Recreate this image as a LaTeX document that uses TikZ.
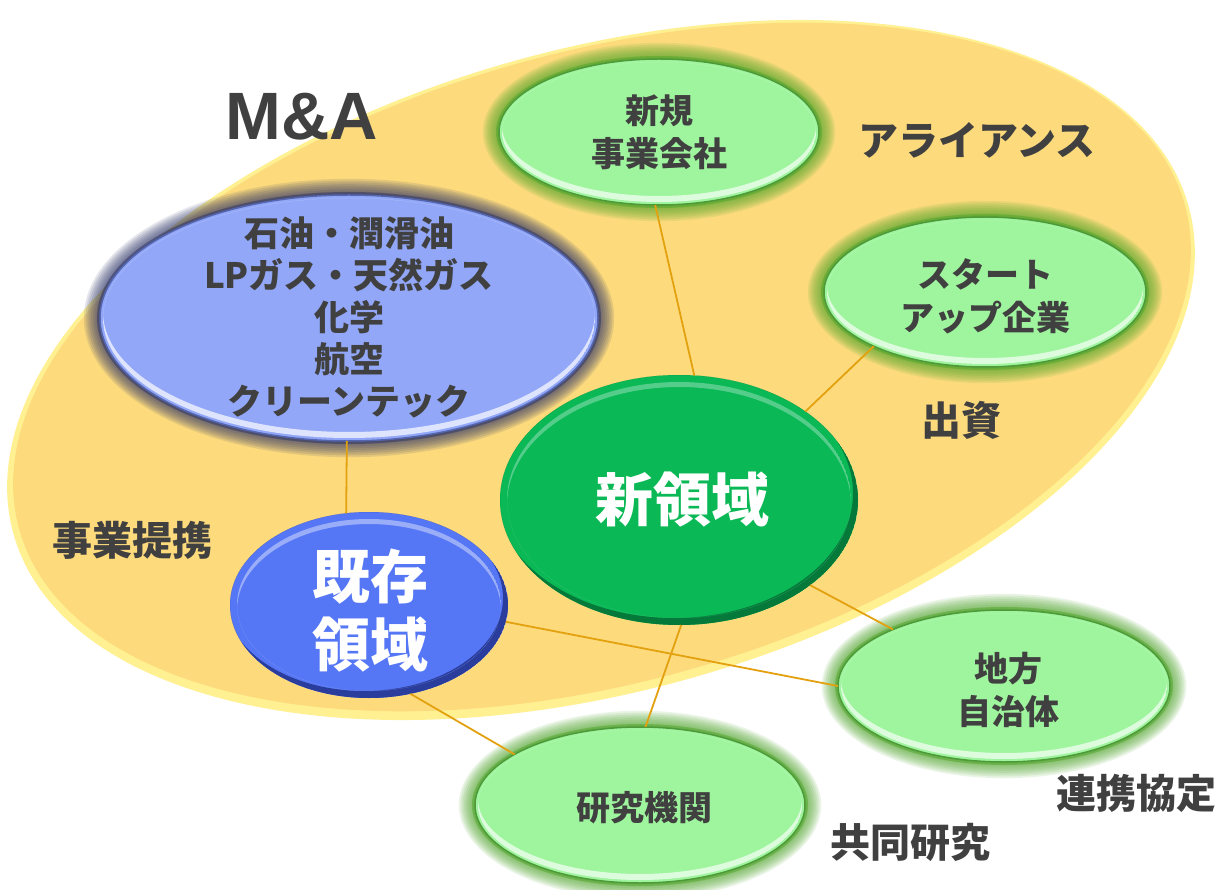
\documentclass[tikz,border=0pt]{standalone}
\usepackage{fontspec}
\setmainfont{Liberation Sans}
\newfontfamily\jp{Noto Sans CJK JP}
\usetikzlibrary{shapes.geometric}
\definecolor{txt}{HTML}{404040}
\definecolor{yel}{HTML}{FDDB7D}
\definecolor{yelrim}{HTML}{FFF092}
\definecolor{lgreen}{HTML}{9FF59E}
\definecolor{glowg}{HTML}{4FA52A}
\definecolor{rimg}{HTML}{4E9A3A}
\definecolor{lblue}{HTML}{92A7F8}
\definecolor{glowb}{HTML}{2E3468}
\definecolor{rimb}{HTML}{5566B0}
\definecolor{dgreen}{HTML}{0AB856}
\definecolor{ddgreen}{HTML}{04793A}
\definecolor{mblue}{HTML}{5677F5}
\definecolor{dmblue}{HTML}{2A3C9C}
\definecolor{conn}{HTML}{E3A10F}
\tikzset{
  conline/.style={draw=conn, line width=1.8pt},
  ebody/.style={ellipse, inner sep=0pt, outer sep=0pt},
  lbl/.style={font=\jp\bfseries\fontsize{40}{48}\selectfont, text=txt, inner sep=0pt},
  etxt/.style={font=\jp\bfseries\fontsize{34}{43}\selectfont, text=txt, align=center, inner sep=0pt},
  bigtxt/.style={font=\jp\bfseries\fontsize{58}{68}\selectfont, text=white, align=center, inner sep=0pt},
}
% glow: cx cy rx ry colour
\newcommand\myglow[5]{%
  \foreach \i in {1,...,9}{%
    \pgfmathsetmacro\rxx{#3+1.8*\i}%
    \pgfmathsetmacro\ryy{#4+1.8*\i}%
    \fill[#5, opacity=0.12] (#1,#2) ellipse [x radius=\rxx, y radius=\ryy];
  }%
  \fill[#5, opacity=0.5] (#1,#2) ellipse [x radius=#3+3, y radius=#4+3];
}
% lower highlight crescent: cx cy rx ry colour shift
\newcommand\mylight[6]{%
  \begin{scope}
    \pgfmathsetmacro\rxx{#3-3}%
    \pgfmathsetmacro\ryy{#4-3}%
    \clip (#1,#2) ellipse [x radius=\rxx, y radius=\ryy];
    \fill[#5, even odd rule] (#1,#2) ellipse [x radius=\rxx, y radius=\ryy]
      (#1,#2-#6) ellipse [x radius=\rxx, y radius=\ryy];
  \end{scope}
}
% dark crescent bottom-right: cx cy rx ry colour
\newcommand\mydark[5]{%
  \begin{scope}
    \clip (#1,#2) ellipse [x radius=#3, y radius=#4];
    \fill[#5, even odd rule] (#1,#2) ellipse [x radius=#3, y radius=#4]
      (#1-5,#2-7) ellipse [x radius=#3, y radius=#4];
  \end{scope}
}
\begin{document}
\begin{tikzpicture}[x=1pt,y=-1pt]
\useasboundingbox (0,0) rectangle (1221,890);
\fill[white] (0,0) rectangle (1221,890);
% big yellow ellipse
\fill[yelrim, rotate around={15.6:(601,370)}] (601,370) ellipse [x radius=610, y radius=321];
\fill[yel, rotate around={15.6:(602,367)}] (602,367) ellipse [x radius=605, y radius=315];

% oil ellipse
\myglow{349}{318}{249}{123}{glowb}
\node[ebody, fill=lblue, draw=rimb, line width=1.5pt, minimum width=498, minimum height=246] (oil) at (349,318) {};
\mylight{349}{318}{249}{123}{white!70!lblue}{6}

% new business company
\myglow{659}{132}{160}{73}{glowg}
\node[ebody, fill=lgreen, draw=rimg, line width=1.5pt, minimum width=320, minimum height=146] (shinki) at (659,132) {};
\mylight{659}{132}{160}{73}{white!65!lgreen}{6}

% startup
\myglow{985}{292}{161}{75}{glowg}
\node[ebody, fill=lgreen, draw=rimg, line width=1.5pt, minimum width=322, minimum height=150] (start) at (985,292) {};
\mylight{985}{292}{161}{75}{white!65!lgreen}{6}

% local government
\myglow{1004}{686}{166}{76}{glowg}
\node[ebody, fill=lgreen, draw=rimg, line width=1.5pt, minimum width=332, minimum height=152] (chiho) at (1004,686) {};
\mylight{1004}{686}{166}{76}{white!65!lgreen}{6}

% research institute
\myglow{640}{805}{165}{78}{glowg}
\node[ebody, fill=lgreen, draw=rimg, line width=1.5pt, minimum width=330, minimum height=156] (kenkyu) at (640,805) {};
\mylight{640}{805}{165}{78}{white!65!lgreen}{6}

% new domain
\node[ebody, fill=dgreen, minimum width=358, minimum height=250] (shin) at (679,500) {};
\mydark{679}{500}{179}{125}{ddgreen}
\mylight{679}{500}{175}{121}{dgreen!70!white}{-5}

% existing domain
\node[ebody, fill=mblue, minimum width=278, minimum height=186] (kizon) at (369,605) {};
\mydark{369}{605}{139}{93}{dmblue}
\mylight{369}{605}{135}{89}{mblue!60!white}{-5}

% connectors
\draw[conline] (oil.-91) -- (kizon.104);
\draw[conline] (shinki.-93) -- (shin.83);
\draw[conline] (start.206) -- (shin.35);
\draw[conline] (shin.-33) -- (chiho.153);
\draw[conline] (shin.-89) -- (kenkyu.86);
\draw[conline] (kizon.-7) -- (chiho.180);
\draw[conline] (kizon.-65) -- (kenkyu.158);

% texts inside
\node[etxt, font=\jp\bfseries\fontsize{35}{42}\selectfont] (toil) at (349,317) {石油・潤滑油\\LPガス・天然ガス\\化学\\航空\\クリーンテック};
\node[etxt] (tshinki) at (659,132) {新規\\事業会社};
\node[etxt] (tstart) at (985,296) {スタート\\アップ企業};
\node[etxt] (tchiho) at (1008,690) {地方\\自治体};
\node[etxt] (tkenkyu) at (644,808) {研究機関};
\node[bigtxt] (tshin) at (682,500) {新領域};
\node[bigtxt] (tkizon) at (370,611) {既存\\領域};

% labels
\node[font=\bfseries\fontsize{67}{80}\selectfont, text=txt, inner sep=0pt, anchor=base] (ma) at (302,140) {M\&A};
\node[lbl] (alli) at (977,140) {アライアンス};
\node[lbl] (shushi) at (961,420) {出資};
\node[lbl] (teikei) at (132,540) {事業提携};
\node[lbl, anchor=east] (kyotei) at (1217,793) {連携協定};
\node[lbl] (kyodo) at (910,842) {共同研究};
\end{tikzpicture}
\end{document}
